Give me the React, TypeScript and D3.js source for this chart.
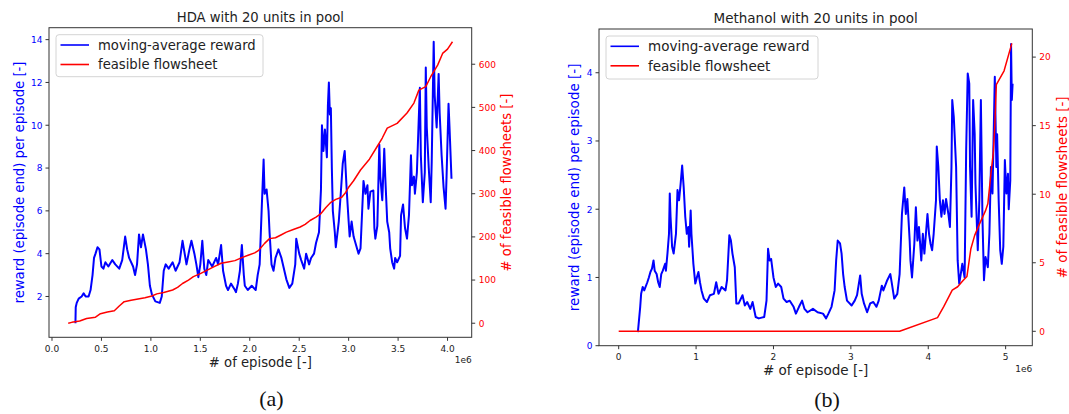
import React from "react";
import * as d3 from "d3";

// ---------- data (x in millions of episodes) ----------
const hdaReward: [number, number][] = [
  [0.237,0.75],[0.24,1.5],[0.25,1.7],[0.27,1.9],[0.3,2.0],[0.32,2.15],[0.34,2.0],[0.37,2.0],[0.39,2.3],[0.41,3.0],
  [0.425,3.8],[0.44,4.0],[0.46,4.3],[0.48,4.2],[0.5,3.4],[0.52,3.3],[0.54,3.6],[0.57,3.4],[0.61,3.7],[0.64,3.5],
  [0.68,3.3],[0.71,3.7],[0.74,4.8],[0.76,4.2],[0.78,3.8],[0.82,3.4],[0.84,3.0],[0.86,3.5],[0.88,4.9],[0.9,4.3],
  [0.92,4.9],[0.95,4.2],[0.97,3.5],[0.99,2.5],[1.01,2.1],[1.045,1.77],[1.09,1.7],[1.11,2.0],[1.13,3.2],[1.15,3.5],
  [1.18,3.3],[1.22,3.6],[1.25,3.2],[1.29,3.6],[1.32,4.6],[1.36,3.5],[1.39,4.2],[1.41,4.6],[1.44,4.0],[1.46,3.5],
  [1.48,2.9],[1.5,3.5],[1.52,4.6],[1.54,3.3],[1.56,3.0],[1.58,3.7],[1.62,3.4],[1.66,3.8],[1.68,3.5],[1.71,4.4],
  [1.73,3.2],[1.76,2.5],[1.78,2.3],[1.81,2.6],[1.85,2.3],[1.86,2.2],[1.88,2.6],[1.9,3.2],[1.92,4.4],[1.94,3.0],
  [1.95,2.5],[1.98,2.3],[2.02,2.5],[2.06,2.3],[2.08,3.0],[2.1,3.5],[2.12,6.0],[2.14,8.4],[2.15,6.8],[2.17,7.0],
  [2.19,6.0],[2.2,5.0],[2.22,3.5],[2.24,3.2],[2.26,3.8],[2.29,4.2],[2.32,3.8],[2.34,3.4],[2.37,2.8],[2.4,2.4],
  [2.43,2.6],[2.46,3.5],[2.47,4.7],[2.5,4.0],[2.52,3.7],[2.55,3.3],[2.57,4.0],[2.6,3.5],[2.62,3.8],[2.65,4.0],
  [2.67,4.5],[2.7,5.0],[2.72,7.0],[2.73,10.0],[2.745,8.8],[2.76,9.8],[2.78,8.5],[2.79,10.9],[2.8,12.0],[2.81,10.5],
  [2.82,10.8],[2.83,8.0],[2.84,6.0],[2.86,5.0],[2.87,4.3],[2.9,5.5],[2.92,6.8],[2.94,8.2],[2.96,8.8],[2.98,7.0],
  [3.0,5.5],[3.01,4.8],[3.03,5.5],[3.05,4.8],[3.1,4.0],[3.12,4.25],[3.15,7.4],[3.17,6.8],[3.19,7.2],[3.2,6.1],
  [3.22,6.9],[3.25,6.95],[3.26,5.2],[3.27,4.7],[3.29,5.3],[3.31,9.1],[3.32,7.6],[3.34,6.5],[3.36,8.9],[3.37,7.6],
  [3.39,5.5],[3.41,5.0],[3.42,4.25],[3.44,3.6],[3.46,3.3],[3.47,3.8],[3.49,3.6],[3.52,3.9],[3.53,5.8],[3.55,6.3],
  [3.57,5.2],[3.59,4.7],[3.61,5.8],[3.63,8.6],[3.64,7.2],[3.66,7.6],[3.67,6.8],[3.69,7.8],[3.72,11.75],[3.73,8.6],
  [3.75,6.4],[3.77,7.8],[3.78,12.7],[3.79,9.9],[3.81,8.0],[3.83,6.4],[3.84,8.3],[3.86,13.9],[3.87,11.4],[3.89,9.9],
  [3.91,12.4],[3.92,10.6],[3.94,8.6],[3.96,7.1],[3.98,6.1],[3.99,7.6],[4.01,11.0],[4.02,9.9],[4.04,7.5],
];

const hdaFeasible: [number, number][] = [
  [0.164,0],[0.2,2],[0.28,5],[0.35,11],[0.44,14],[0.49,22],[0.56,26],[0.63,29],[0.68,40],[0.73,50],
  [0.8,53],[0.87,56],[0.94,59],[1.01,63],[1.06,68],[1.13,71],[1.22,77],[1.27,83],[1.32,92],[1.38,100],
  [1.43,108],[1.5,115],[1.57,123],[1.64,131],[1.71,139],[1.78,142],[1.85,145],[1.92,152],[1.99,158],[2.05,163],
  [2.09,169],[2.15,185],[2.2,196],[2.26,198],[2.32,205],[2.37,211],[2.44,217],[2.51,223],[2.56,229],[2.61,238],
  [2.67,246],[2.72,254],[2.77,268],[2.82,280],[2.87,287],[2.93,292],[2.97,303],[3.0,315],[3.05,330],[3.12,355],
  [3.21,380],[3.29,410],[3.34,429],[3.39,452],[3.49,463],[3.59,487],[3.66,510],[3.71,540],[3.78,548],[3.83,571],
  [3.9,598],[3.95,625],[4.0,635],[4.05,652],
];

const methReward: [number, number][] = [
  [0.248,0.2],[0.278,0.57],[0.29,0.76],[0.31,0.86],[0.33,0.81],[0.37,0.93],[0.39,1.0],[0.41,1.08],[0.43,1.13],[0.45,1.25],
  [0.465,1.1],[0.49,1.05],[0.51,0.93],[0.53,0.86],[0.55,1.05],[0.57,1.1],[0.6,1.2],[0.61,1.1],[0.63,1.35],[0.65,1.64],
  [0.66,2.23],[0.67,1.89],[0.69,1.45],[0.71,1.35],[0.74,1.64],[0.76,2.28],[0.78,2.13],[0.8,2.37],[0.82,2.64],[0.84,2.32],
  [0.86,1.89],[0.88,1.64],[0.9,1.74],[0.91,1.45],[0.93,1.98],[0.94,1.64],[0.965,1.2],[0.99,0.91],[1.01,1.0],[1.03,1.08],
  [1.05,0.93],[1.07,0.81],[1.1,0.69],[1.14,0.64],[1.18,0.74],[1.23,0.76],[1.26,0.93],[1.29,0.76],[1.33,0.86],[1.38,0.81],
  [1.4,0.96],[1.43,1.62],[1.45,1.54],[1.47,1.35],[1.5,1.15],[1.52,0.62],[1.55,0.62],[1.6,0.74],[1.63,0.59],[1.66,0.64],
  [1.7,0.54],[1.73,0.64],[1.77,0.42],[1.81,0.4],[1.88,0.42],[1.91,0.66],[1.93,1.42],[1.95,1.25],[1.97,1.27],[2.0,1.0],
  [2.03,0.86],[2.06,0.91],[2.1,0.86],[2.13,0.69],[2.17,0.64],[2.21,0.66],[2.26,0.57],[2.29,0.47],[2.33,0.57],[2.37,0.66],
  [2.4,0.54],[2.44,0.49],[2.51,0.54],[2.57,0.49],[2.64,0.47],[2.68,0.4],[2.71,0.47],[2.75,0.57],[2.79,0.81],[2.81,1.25],
  [2.83,1.54],[2.86,1.5],[2.88,1.35],[2.9,1.05],[2.92,0.86],[2.95,0.66],[3.01,0.59],[3.05,0.66],[3.08,0.74],[3.12,1.03],
  [3.14,0.76],[3.17,0.62],[3.21,0.49],[3.25,0.62],[3.29,0.64],[3.33,0.57],[3.36,0.66],[3.4,0.88],[3.42,0.81],[3.47,0.96],
  [3.51,1.05],[3.53,0.91],[3.56,0.69],[3.6,0.76],[3.63,1.05],[3.66,1.93],[3.69,2.32],[3.71,1.93],[3.73,2.15],[3.76,1.54],
  [3.77,1.25],[3.79,1.0],[3.82,1.49],[3.84,2.03],[3.86,1.54],[3.88,1.74],[3.91,1.25],[3.93,1.64],[3.95,1.35],[3.99,1.93],
  [4.01,1.64],[4.03,1.49],[4.05,1.4],[4.07,1.64],[4.1,2.13],[4.11,2.92],[4.13,2.62],[4.15,2.13],[4.17,1.89],[4.19,2.13],
  [4.21,1.93],[4.23,2.15],[4.26,1.93],[4.28,1.74],[4.3,2.62],[4.31,3.6],[4.33,3.35],[4.36,2.62],[4.38,1.25],[4.4,0.91],
  [4.42,1.05],[4.44,1.2],[4.47,1.0],[4.49,2.86],[4.51,3.99],[4.53,3.84],[4.54,2.62],[4.56,1.89],[4.58,3.6],[4.6,3.1],
  [4.61,2.37],[4.64,1.4],[4.66,2.13],[4.68,3.6],[4.7,1.89],[4.72,0.96],[4.74,1.3],[4.77,1.15],[4.79,1.64],[4.81,2.62],
  [4.83,2.23],[4.86,3.94],[4.88,2.62],[4.89,3.1],[4.91,2.13],[4.93,1.4],[4.95,1.2],[4.97,1.45],[4.99,2.72],[5.01,2.23],
  [5.03,2.52],[5.04,2.0],[5.06,2.42],[5.07,4.42],[5.08,3.6],[5.09,3.84],
];

const methFeasible: [number, number][] = [
  [0,0],[3.63,0],[4.12,1],[4.2,1.8],[4.31,3.0],[4.38,3.25],[4.45,3.7],[4.5,4.0],[4.53,5.2],[4.55,6.0],
  [4.6,7.0],[4.66,7.8],[4.74,8.8],[4.77,9.3],[4.81,11.5],[4.84,13],[4.86,15],[4.88,18],[4.98,19],[5.08,21],
];

const hdaXTicks = [0, 0.5, 1.0, 1.5, 2.0, 2.5, 3.0, 3.5, 4.0];
const hdaRewardTicks = [2, 4, 6, 8, 10, 12, 14];
const hdaFeasibleTicks = [0, 100, 200, 300, 400, 500, 600];
const methXTicks = [0, 1, 2, 3, 4, 5];
const methRewardTicks = [0, 1, 2, 3, 4];
const methFeasibleTicks = [0, 5, 10, 15, 20];

const BLUE = "#0000ff";
const RED = "#ff0000";
const FONT = "DejaVu Sans";

type Cfg = {
  x0: number; x1: number; y0: number; y1: number;
  title: string;
  reward: [number, number][];
  feasible: [number, number][];
  xTicks: number[]; xFmt: (v: number) => string;
  lTicks: number[]; rTicks: number[];
  lDomain: [number, number]; rDomain: [number, number]; xDomain: [number, number];
  fs: number; legendW: number; legendH: number;
  leftLabelX: number; rightLabelX: number;
  caption: string; capX: number; capY: number;
};

function pad(ext: [number, number]): [number, number] {
  const r = ext[1] - ext[0];
  return [ext[0] - 0.05 * r, ext[1] + 0.05 * r];
}

function Panel({ c }: { c: Cfg }) {
  const x = d3.scaleLinear().domain(c.xDomain).range([c.x0, c.x1]);
  const yl = d3.scaleLinear().domain(c.lDomain).range([c.y1, c.y0]);
  const yr = d3.scaleLinear().domain(c.rDomain).range([c.y1, c.y0]);
  const lineL = d3.line<[number, number]>().x((d) => x(d[0])).y((d) => yl(d[1]));
  const lineR = d3.line<[number, number]>().x((d) => x(d[0])).y((d) => yr(d[1]));
  const tfs = 9;
  const cx = (c.x0 + c.x1) / 2;
  const cy = (c.y0 + c.y1) / 2;
  const lx = c.x0 + 7, ly = c.y0 + 7;
  return (
    <g fontFamily={FONT}>
      <text x={cx} y={c.y0 - 6} textAnchor="middle" fontSize={c.fs} fill="#222">{c.title}</text>
      <path d={lineL(c.reward) || ""} fill="none" stroke={BLUE} strokeWidth={2} strokeLinejoin="round" />
      <path d={lineR(c.feasible) || ""} fill="none" stroke={RED} strokeWidth={1.5} strokeLinejoin="round" />
      <rect x={c.x0} y={c.y0} width={c.x1 - c.x0} height={c.y1 - c.y0} fill="none" stroke="#333" strokeWidth={1} />
      {c.xTicks.map((t) => (
        <g key={"x" + t}>
          <line x1={x(t)} x2={x(t)} y1={c.y1} y2={c.y1 + 3.5} stroke="#333" />
          <text x={x(t)} y={c.y1 + 14.2} textAnchor="middle" fontSize={tfs} fill="#222">{c.xFmt(t)}</text>
        </g>
      ))}
      <text x={c.x1} y={c.y1 + 25.8} textAnchor="end" fontSize={tfs} fill="#222">1e6</text>
      {c.lTicks.map((t) => (
        <g key={"l" + t}>
          <line x1={c.x0 - 3.5} x2={c.x0} y1={yl(t)} y2={yl(t)} stroke="#333" />
          <text x={c.x0 - 6.5} y={yl(t) + 3.3} textAnchor="end" fontSize={tfs} fill={BLUE}>{t}</text>
        </g>
      ))}
      {c.rTicks.map((t) => (
        <g key={"r" + t}>
          <line x1={c.x1} x2={c.x1 + 3.5} y1={yr(t)} y2={yr(t)} stroke="#333" />
          <text x={c.x1 + 7} y={yr(t) + 3.3} textAnchor="start" fontSize={tfs} fill={RED}>{t}</text>
        </g>
      ))}
      <text x={cx} y={c.y1 + 29.3} textAnchor="middle" fontSize={c.fs} fill="#222"># of episode [-]</text>
      <text transform={`translate(${c.leftLabelX},${cy}) rotate(-90)`} textAnchor="middle" dominantBaseline="central" fontSize={c.fs} fill={BLUE}>
        reward (episode end) per episode [-]
      </text>
      <text transform={`translate(${c.rightLabelX},${cy}) rotate(-90)`} textAnchor="middle" dominantBaseline="central" fontSize={c.fs} fill={RED}>
        # of feasible flowsheets [-]
      </text>
      <rect x={lx} y={ly} width={c.legendW} height={c.legendH} rx={3} fill="white" fillOpacity={0.8} stroke="#d4d4d4" />
      <line x1={lx + 4.5} x2={lx + 33} y1={ly + 10.3} y2={ly + 10.3} stroke={BLUE} strokeWidth={1.6} />
      <line x1={lx + 4.5} x2={lx + 33} y1={ly + 29.8} y2={ly + 29.8} stroke={RED} strokeWidth={1.6} />
      <text x={lx + 42} y={ly + 10.3} dominantBaseline="central" fontSize={c.fs} fill="#222">moving-average reward</text>
      <text x={lx + 42} y={ly + 29.8} dominantBaseline="central" fontSize={c.fs} fill="#222">feasible flowsheet</text>
      <text x={c.capX} y={c.capY} textAnchor="middle" fontFamily="Liberation Serif" fontSize={22} fill="#111">{c.caption}</text>
    </g>
  );
}

const hdaX = pad([
  Math.min(d3.min(hdaReward, (d) => d[0])!, d3.min(hdaFeasible, (d) => d[0])!),
  Math.max(d3.max(hdaReward, (d) => d[0])!, d3.max(hdaFeasible, (d) => d[0])!),
]);
const methX = pad([
  Math.min(d3.min(methReward, (d) => d[0])!, d3.min(methFeasible, (d) => d[0])!),
  Math.max(d3.max(methReward, (d) => d[0])!, d3.max(methFeasible, (d) => d[0])!),
]);

const left: Cfg = {
  x0: 49, x1: 471.7, y0: 27.7, y1: 337.3,
  title: "HDA with 20 units in pool",
  reward: hdaReward, feasible: hdaFeasible,
  xTicks: hdaXTicks, xFmt: d3.format(".1f"),
  lTicks: hdaRewardTicks, rTicks: hdaFeasibleTicks,
  xDomain: hdaX,
  lDomain: pad(d3.extent(hdaReward, (d) => d[1]) as [number, number]),
  rDomain: pad(d3.extent(hdaFeasible, (d) => d[1]) as [number, number]),
  fs: 13.2, legendW: 207, legendH: 42,
  leftLabelX: 19, rightLabelX: 506,
  caption: "(a)", capX: 271.5, capY: 406,
};

const methMax = d3.max(methReward, (d) => d[1])!;
const right: Cfg = {
  x0: 599, x1: 1032.3, y0: 29, y1: 345.7,
  title: "Methanol with 20 units in pool",
  reward: methReward, feasible: methFeasible,
  xTicks: methXTicks, xFmt: d3.format("d"),
  lTicks: methRewardTicks, rTicks: methFeasibleTicks,
  xDomain: methX,
  lDomain: [0, methMax * 1.05],
  rDomain: pad(d3.extent(methFeasible, (d) => d[1]) as [number, number]),
  fs: 13.5, legendW: 212, legendH: 43,
  leftLabelX: 574, rightLabelX: 1061.5,
  caption: "(b)", capX: 827, capY: 407,
};

export default function App() {
  return (
    <svg width={1069} height={414} style={{ position: "absolute", left: 0, top: 0, background: "white" }}>
      <rect width={1069} height={414} fill="white" />
      <Panel c={left} />
      <Panel c={right} />
    </svg>
  );
}
